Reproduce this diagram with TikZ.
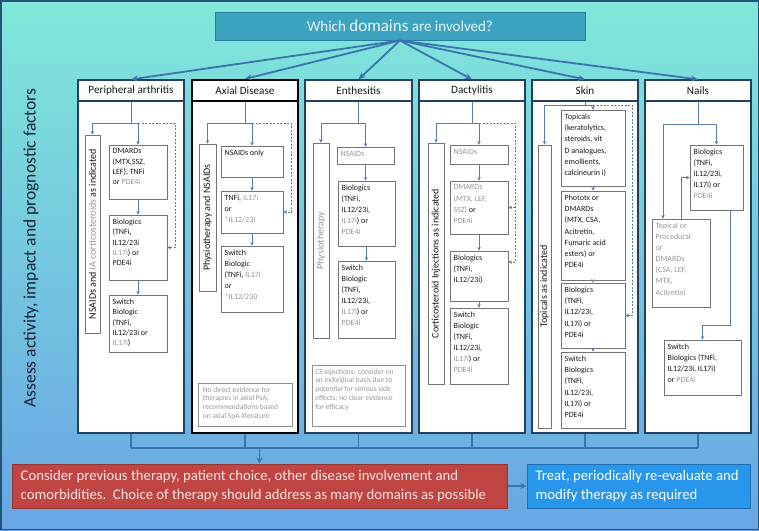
\documentclass[tikz,border=0pt]{standalone}
\usepackage{fontspec}
\setmainfont{Carlito}
\usetikzlibrary{arrows.meta,fit}
\definecolor{navy}{RGB}{35,65,95}
\definecolor{connc}{RGB}{85,125,170}
\definecolor{gtxtc}{RGB}{150,150,150}
\definecolor{dtxt}{RGB}{25,25,25}
\definecolor{ibord}{RGB}{115,115,115}
\definecolor{arrblue}{RGB}{60,115,175}
\definecolor{ttlfill}{RGB}{62,163,192}
\definecolor{ttlbord}{RGB}{40,125,155}
\definecolor{ttltxt}{RGB}{228,246,250}
\definecolor{sidetxt}{RGB}{20,35,55}
\definecolor{redfill}{RGB}{192,68,66}
\definecolor{redbord}{RGB}{150,50,50}
\definecolor{redtxt}{RGB}{252,228,226}
\definecolor{bluefill}{RGB}{40,150,235}
\definecolor{bluebord}{RGB}{30,110,180}
\definecolor{bgtop}{RGB}{128,232,218}
\definecolor{bgbot}{RGB}{105,165,228}
\definecolor{framec}{RGB}{40,80,120}
\newcommand{\gtx}[1]{\textcolor{gtxtc}{#1}}
\tikzset{
  hdr/.style={draw=navy, line width=1.2pt, fill=white, inner sep=0pt},
  hdrb/.style={hdr, draw=black, line width=2.2pt},
  htxt/.style={inner sep=0pt, font=\fontsize{11.2}{13}\selectfont, text=dtxt},
  colbody/.style={draw=navy, line width=1.2pt, fill=white, inner sep=0pt},
  colbodyb/.style={colbody, draw=black, line width=2.2pt},
  ibox/.style={draw=ibord, line width=0.7pt, fill=white, inner sep=0pt},
  nbox/.style={draw=ibord!80, line width=0.7pt, fill=white, inner sep=0pt},
  itxt/.style={inner xsep=3.8pt, inner ysep=4pt, align=left, font=\fontsize{8}{11.1}\selectfont, text=dtxt},
  itxtone/.style={itxt, font=\fontsize{8}{10.3}\selectfont},
  itxtsk/.style={itxt, font=\fontsize{8}{11.2}\selectfont},
  vtxt/.style={rotate=90, font=\fontsize{10}{12}\selectfont, text=dtxt, inner sep=0pt},
  ntxt/.style={inner xsep=5pt, inner ysep=4pt, align=left, font=\fontsize{7.5}{8.9}\selectfont, text=gtxtc},
  cn/.style={draw=connc, line width=0.8pt},
  ca/.style={cn, -{Stealth[length=3.5pt,width=3.5pt]}},
  cd/.style={ca, dash pattern=on 2pt off 1.5pt},
  bigarr/.style={draw=arrblue, line width=1.8pt, -{Stealth[length=7pt,width=6pt]}},
  busl/.style={draw=arrblue, line width=1.4pt},
  busa/.style={busl, -{Stealth[length=6pt,width=6pt]}},
  btxt/.style={anchor=west, align=left, inner sep=0pt, font=\fontsize{14.7}{18.5}\selectfont},
}
\begin{document}
\begin{tikzpicture}[x=1pt,y=-1pt]
\useasboundingbox (0,0) rectangle (759,530);
\fill[top color=bgtop, bottom color=bgbot] (0,0) rectangle (759,530);
\draw[framec, line width=1.5pt] (0.75,0.75) rectangle (758.25,529.25);

% title
\node[draw=ttlbord, line width=1pt, fill=ttlfill, inner sep=0pt, fit={(215,12)(585,40)}] (ttl) {};
\node[inner sep=0pt, text=ttltxt, font=\fontsize{15}{17}\selectfont] (ttlt) at (ttl.center)
      {Which {\fontsize{17}{17}\selectfont domains} are involved?};

% side text
\node[rotate=90, font=\fontsize{17.5}{20}\selectfont, text=sidetxt, inner sep=0pt] (side) at (31,248)
      {Assess activity, impact and prognostic factors};

% ===== column 1 =====
\node[colbody, fit={(78,101)(184,433)}] (c1) {};
\node[hdr, fit={(78,80)(184,101)}] (h1) {};
\node[htxt] (h1t) at (h1.center) {Peripheral arthritis};
\node[ibox, fit={(85,135)(100,333)}] (v1) {};
\node[vtxt] (v1t) at (v1.center) {NSAIDs and \gtx{IA corticosteroids} as indicated};
\node[ibox, fit={(109,145)(167,199)}] (p1a) {};
\node[itxtone, anchor=north west] (p1at) at (p1a.north west) {DMARDs\\(MTX,SSZ,\\LEF), TNFi\\or \gtx{PDE4i}};
\node[ibox, fit={(109,215)(167,280)}] (p1b) {};
\node[itxtone, anchor=north west] (p1bt) at (p1b.north west) {Biologics\\(TNFi,\\IL12/23i\\\gtx{IL17i}) or\\PDE4i};
\node[ibox, fit={(109,295)(167,352)}] (p1c) {};
\node[itxtone, anchor=north west] (p1ct) at (p1c.north west) {Switch\\Biologic\\(TNFi,\\IL12/23i or\\\gtx{IL17i})};
\coordinate (j1) at (131,123);
\coordinate (k1) at (175,123);
\draw[cn] (h1.south) -- (j1);
\draw[ca] (j1) -| (v1.north);
\draw[ca] (j1) -| (p1a.north);
\draw[cd] (p1a.north |- j1) -- (k1) |- (p1b.east);
\draw[ca] (p1a.south) -- (p1b.north);
\draw[ca] (p1b.south) -- (p1c.north);

% ===== column 2 =====
\node[colbodyb, fit={(192,101)(298,433)}] (c2) {};
\node[hdrb, fit={(192,80)(298,101)}] (h2) {};
\node[htxt] (h2t) at (h2.center) {Axial Disease};
\node[ibox, fit={(199,144)(216,291)}] (v2) {};
\node[vtxt] (v2t) at (v2.center) {Physiotherapy and NSAIDs};
\node[ibox, fit={(221,146)(283,177)}] (a2a) {};
\node[itxt, anchor=north west] (a2at) at (a2a.north west) {NSAIDs only};
\node[ibox, fit={(221,191)(283,233)}] (a2b) {};
\node[itxt, anchor=north west] (a2bt) at (a2b.north west) {TNFi, \gtx{IL17i}\\or\\\gtx{*IL12/23i}};
\node[ibox, fit={(221,246)(283,312)}] (a2c) {};
\node[itxt, anchor=north west] (a2ct) at (a2c.north west) {Switch\\Biologic\\(TNFi, \gtx{IL17i}\\or\\\gtx{*IL12/23i)}};
\node[nbox, fit={(198,383)(292,426)}] (n2) {};
\node[ntxt, anchor=north west] (n2t) at (n2.north west) {No direct evidence for\\therapies in axial PsA;\\recommendations based\\on axial SpA literature};
\coordinate (j2) at (245,123);
\coordinate (k2) at (291,123);
\draw[cn] (h2.south) -- (j2);
\draw[ca] (j2) -| (v2.north);
\draw[ca] (j2) -| (a2a.north);
\draw[cd] (a2a.north |- j2) -- (k2) |- (a2b.east);
\draw[ca] (a2a.south) -- (a2b.north);
\draw[ca] (a2b.south) -- (a2c.north);

% ===== column 3 =====
\node[colbody, fit={(305,101)(412,433)}] (c3) {};
\node[hdr, fit={(305,80)(412,101)}] (h3) {};
\node[htxt] (h3t) at (h3.center) {Enthesitis};
\node[ibox, fit={(313,143)(329,338)}] (v3) {};
\node[vtxt, text=gtxtc] (v3t) at (v3.center) {Physiotherapy};
\node[ibox, fit={(337,147)(394,164)}] (e3a) {};
\node[itxt, anchor=north west, text=gtxtc] (e3at) at (e3a.north west) {NSAIDs};
\node[ibox, fit={(338,181)(395,246)}] (e3b) {};
\node[itxt, anchor=north west] (e3bt) at (e3b.north west) {Biologics\\(TNFi,\\IL12/23i,\\\gtx{IL17i}) or\\\gtx{PDE4i}};
\node[ibox, fit={(338,261)(395,338)}] (e3c) {};
\node[itxt, anchor=north west] (e3ct) at (e3c.north west) {Switch\\Biologic\\(TNFi,\\IL12/23i,\\\gtx{IL17i}) or\\\gtx{PDE4i}};
\node[nbox, fit={(312,365)(405,426)}] (n3) {};
\node[ntxt, anchor=north west, inner xsep=3.5pt] (n3t) at (n3.north west) {CS injections: consider on\\an individual basis due to\\potential for serious side\\effects; no clear evidence\\for efficacy};
\coordinate (j3) at (358.5,123);
\draw[cn] (h3.south) -- (j3);
\draw[ca] (j3) -| (v3.north);
\draw[ca] (j3) -| (e3a.north);
\draw[ca] (e3a.south) -- (e3a.south |- e3b.north);
\draw[ca] (e3b.south) -- (e3c.north);

% ===== column 4 =====
\node[colbody, fit={(419,101)(525,433)}] (c4) {};
\node[hdr, fit={(419,80)(525,101)}] (h4) {};
\node[htxt] (h4t) at (h4.center) {Dactylitis};
\node[ibox, fit={(428,143)(444,384)}] (v4) {};
\node[vtxt] (v4t) at (v4.center) {Corticosteroid Injections as indicated};
\node[ibox, fit={(450,145)(508,164)}] (d4a) {};
\node[itxt, anchor=north west, text=gtxtc] (d4at) at (d4a.north west) {NSAIDs};
\node[ibox, fit={(450,181)(508,234)}] (d4b) {};
\node[itxt, anchor=north west] (d4bt) at (d4b.north west) {\gtx{DMARDs}\\\gtx{(MTX, LEF,}\\\gtx{SSZ)} or\\\gtx{PDE4i}};
\node[ibox, fit={(450,251)(508,301)}] (d4c) {};
\node[itxt, anchor=north west] (d4ct) at (d4c.north west) {Biologics\\(TNFi,\\IL12/23i)};
\node[ibox, fit={(450,308)(508,384)}] (d4d) {};
\node[itxt, anchor=north west] (d4dt) at (d4d.north west) {Switch\\Biologic\\(TNFi,\\IL12/23i,\\\gtx{IL17i}) or\\\gtx{PDE4i}};
\coordinate (j4) at (472,123);
\coordinate (k4) at (515,123);
\draw[cn] (h4.south) -- (j4);
\draw[ca] (j4) -| (v4.north);
\draw[ca] (j4) -| (d4a.north);
\draw[cd] (d4a.north |- j4) -- (k4) |- ([yshift=14pt]d4c.east);
\draw[cd] (k4 |- d4b.east) -- (d4b.east);
\draw[ca] (d4a.south) -- (d4b.north);
\draw[ca] (d4b.south) -- (d4c.north);
\draw[ca] (d4c.south) -- (d4d.north);

% ===== column 5 =====
\node[colbody, fit={(532,101)(638,433)}] (c5) {};
\node[hdr, fit={(532,80)(638,101)}] (h5) {};
\node[htxt] (h5t) at (h5.center) {Skin};
\node[ibox, fit={(538,145)(551,428)}] (v5) {};
\node[vtxt] (v5t) at (v5.center) {Topicals as indicated};
\node[ibox, fit={(561,110)(625,186)}] (s5a) {};
\node[itxtsk, anchor=north west] (s5at) at (s5a.north west) {Topicals\\(keratolytics,\\steroids, vit\\D analogues,\\emollients,\\calcineurin i)};
\node[ibox, fit={(561,191)(625,280)}] (s5b) {};
\node[itxtsk, anchor=north west] (s5bt) at (s5b.north west) {Phototx or\\DMARDs\\(MTX, CSA,\\Acitretin,\\Fumaric acid\\esters) or\\PDE4i};
\node[ibox, fit={(561,283)(625,348)}] (s5c) {};
\node[itxtsk, anchor=north west] (s5ct) at (s5c.north west) {Biologics\\(TNFi,\\IL12/23i,\\IL17i) or\\PDE4i};
\node[ibox, fit={(561,352)(625,428)}] (s5d) {};
\node[itxtsk, anchor=north west] (s5dt) at (s5d.north west) {Switch\\Biologics\\(TNFi,\\IL12/23i,\\IL17i) or\\PDE4i};
\coordinate (j5) at (585,105);
\coordinate (k5) at (632,105);
\draw[cn] (h5.south) -- (j5);
\draw[ca] (j5) -| (v5.north);
\draw[ca] (j5) -| (s5a.north);
\draw[cd] (s5a.north |- j5) -- (k5) |- (s5c.east);
\draw[ca] (s5a.south) -- (s5b.north);
\draw[ca] (s5b.south) -- (s5c.north);
\draw[ca] (s5c.south) -- (s5d.north);

% ===== column 6 =====
\node[colbody, fit={(645,101)(751,433)}] (c6) {};
\node[hdr, fit={(645,80)(751,101)}] (h6) {};
\node[htxt] (h6t) at (h6.center) {Nails};
\node[ibox, fit={(690,145)(743,210)}] (n6a) {};
\node[itxt, anchor=north west] (n6at) at (n6a.north west) {Biologics\\(TNFi,\\IL12/23i,\\IL17i) or\\\gtx{PDE4i}};
\node[ibox, fit={(652,219)(710,307)}] (n6b) {};
\node[itxt, anchor=north west, text=gtxtc] (n6bt) at (n6b.north west) {Topical or\\Procedural\\or\\DMARDs\\(CSA, LEF,\\MTX,\\Acitretin)};
\node[ibox, fit={(664,340)(741,395)}] (n6c) {};
\node[itxt, anchor=north west] (n6ct) at (n6c.north west) {Switch\\Biologics (TNFi,\\IL12/23i, IL17i)\\or \gtx{PDE4i}};
\coordinate (j6) at (698,124);
\coordinate (m6) at (730,325);
\draw[cn] (h6.south) -- (j6);
\draw[ca] (j6) -| (n6a.north);
\draw[ca] (j6) -| ([xshift=-18pt]n6b.north);
\draw[ca] (n6b.north) |- (n6a.west);
\draw[ca] ([xshift=13.5pt]n6a.south) -- (m6) -| (n6c.north);

% ===== bottom =====
\node[fill=redfill, draw=redbord, line width=1pt, inner sep=0pt, fit={(12,464)(507,508)}] (rb) {};
\node[btxt, text=redtxt] (rbt) at ([xshift=9pt]rb.west)
  {Consider previous therapy, patient choice, other disease involvement and\\comorbidities.\ \ Choice of therapy should address as many domains as possible};
\node[fill=bluefill, draw=bluebord, line width=1pt, inner sep=0pt, fit={(527,464)(750,508)}] (bb) {};
\node[btxt, text=white] (bbt) at ([xshift=9pt]bb.west)
  {Treat, periodically re-evaluate and\\modify therapy as required};
\coordinate (bus) at (131,448);
\foreach \c in {c1,c2,c3,c4,c5,c6} { \draw[busl] (\c.south) -- (\c.south |- bus); }
\draw[busl] (c1.south |- bus) -- (c6.south |- bus);
\draw[busa] (rb.north |- bus) -- (rb.north);
\draw[busa] (rb.east) -- (bb.west);

% title arrows
\foreach \h in {h1,h2,h3,h4,h5,h6} { \draw[bigarr] (ttl.south) -- (\h.north); }
\end{tikzpicture}
\end{document}
